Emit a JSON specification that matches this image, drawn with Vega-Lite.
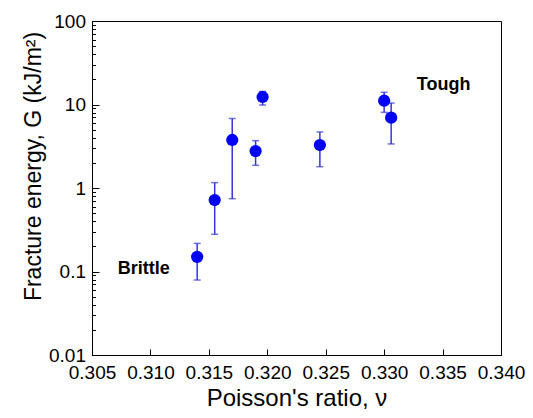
{
  "$schema": "https://vega.github.io/schema/vega-lite/v6.json",
  "width": 409,
  "height": 334,
  "autosize": "none",
  "padding": {"left": 92, "top": 21, "right": 32, "bottom": 63},
  "background": "white",
  "config": {
    "view": {"stroke": "black", "strokeWidth": 1},
    "font": "Liberation Sans",
    "axis": {
      "grid": false,
      "domainColor": "black",
      "tickColor": "black",
      "labelColor": "black",
      "titleColor": "black",
      "labelFont": "Liberation Sans",
      "titleFont": "Liberation Sans",
      "titleFontWeight": "normal"
    }
  },
  "datasets": {
    "pts": [
      {"nu": 0.3140, "G": 0.150, "lo": 0.079, "hi": 0.217},
      {"nu": 0.3155, "G": 0.718, "lo": 0.279, "hi": 1.16},
      {"nu": 0.3170, "G": 3.76, "lo": 0.745, "hi": 6.8},
      {"nu": 0.3190, "G": 2.77, "lo": 1.87, "hi": 3.69},
      {"nu": 0.3196, "G": 12.3, "lo": 9.86, "hi": 14.3},
      {"nu": 0.3245, "G": 3.27, "lo": 1.80, "hi": 4.69},
      {"nu": 0.3300, "G": 11.1, "lo": 8.06, "hi": 14.0},
      {"nu": 0.3306, "G": 6.95, "lo": 3.37, "hi": 10.4}
    ],
    "labels": [
      {"nu": 0.3328, "G": 17.1, "text": "Tough"},
      {"nu": 0.3072, "G": 0.106, "text": "Brittle"}
    ]
  },
  "layer": [
    {
      "data": {"name": "pts"},
      "mark": {"type": "rule", "color": "#3535dd", "strokeWidth": 1.5},
      "encoding": {
        "x": {
          "field": "nu", "type": "quantitative",
          "scale": {"domain": [0.305, 0.340], "nice": false, "zero": false},
          "axis": {
            "title": "Poisson's ratio, ν",
            "titleFontSize": 24,
            "labelFontSize": 19,
            "values": [0.305, 0.3075, 0.31, 0.3125, 0.315, 0.3175, 0.32, 0.3225, 0.325, 0.3275, 0.33, 0.3325, 0.335, 0.3375, 0.34],
            "format": ".3f",
            "labelExpr": "abs(datum.value*200 - round(datum.value*200)) < 1e-6 ? datum.label : ''",
            "tickSize": {"condition": {"test": "abs(datum.value*200 - round(datum.value*200)) < 1e-6", "value": -6}, "value": -3},
            "labelPadding": 14,
            "titlePadding": 4,
            "labelFlush": false,
            "labelOverlap": false
          }
        },
        "y": {
          "field": "lo", "type": "quantitative",
          "scale": {"type": "log", "domain": [0.01, 100], "nice": false},
          "axis": {
            "title": "Fracture energy, G (kJ/m²)",
            "titleFontSize": 23,
            "labelFontSize": 19,
            "titleY": 145,
            "values": [0.01, 0.02, 0.03, 0.04, 0.05, 0.06, 0.07, 0.08, 0.09, 0.1, 0.2, 0.3, 0.4, 0.5, 0.6, 0.7, 0.8, 0.9, 1, 2, 3, 4, 5, 6, 7, 8, 9, 10, 20, 30, 40, 50, 60, 70, 80, 90, 100],
            "format": "~g",
            "labelExpr": "abs(log(datum.value)/LN10 - round(log(datum.value)/LN10)) < 1e-6 ? datum.label : ''",
            "tickSize": {"condition": {"test": "abs(log(datum.value)/LN10 - round(log(datum.value)/LN10)) < 1e-6", "value": -7}, "value": -3.5},
            "labelPadding": 13.5,
            "titlePadding": 3,
            "labelFlush": false,
            "labelOverlap": false
          }
        },
        "y2": {"field": "hi"}
      }
    },
    {
      "data": {"name": "pts"},
      "mark": {"type": "tick", "orient": "horizontal", "color": "#3535dd", "size": 7, "thickness": 1.5},
      "encoding": {
        "x": {"field": "nu", "type": "quantitative"},
        "y": {"field": "lo", "type": "quantitative"}
      }
    },
    {
      "data": {"name": "pts"},
      "mark": {"type": "tick", "orient": "horizontal", "color": "#3535dd", "size": 7, "thickness": 1.5},
      "encoding": {
        "x": {"field": "nu", "type": "quantitative"},
        "y": {"field": "hi", "type": "quantitative"}
      }
    },
    {
      "data": {"name": "pts"},
      "mark": {"type": "circle", "color": "#0000f5", "opacity": 1, "size": 150},
      "encoding": {
        "x": {"field": "nu", "type": "quantitative"},
        "y": {"field": "G", "type": "quantitative"}
      }
    },
    {
      "data": {"name": "labels"},
      "mark": {"type": "text", "align": "left", "baseline": "middle", "fontSize": 18, "fontWeight": "bold", "color": "black", "font": "Liberation Sans"},
      "encoding": {
        "x": {"field": "nu", "type": "quantitative"},
        "y": {"field": "G", "type": "quantitative"},
        "text": {"field": "text"}
      }
    }
  ]
}
